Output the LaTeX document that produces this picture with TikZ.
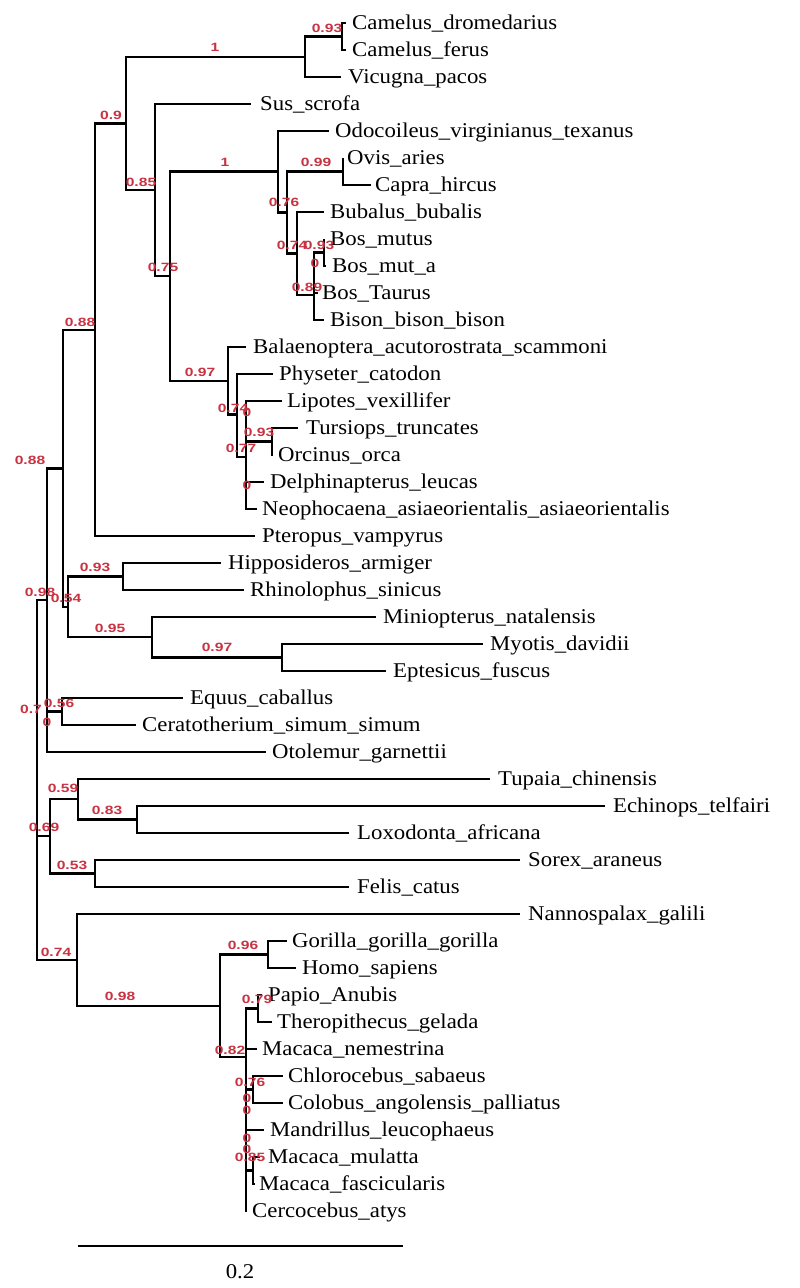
\documentclass[tikz,border=0pt]{standalone}
\usepackage{fontspec}
\setmainfont{Liberation Serif}
\setsansfont{Liberation Sans}
\usepackage{graphicx}
\definecolor{lab}{RGB}{200,50,65}
\tikzset{
  br/.style={line width=2.5pt},
  leaflab/.style={anchor=base west, inner sep=0pt, font=\fontsize{21}{21}\selectfont},
  sup/.style={text=lab, inner sep=0pt, font=\fontsize{12}{12}\selectfont\sffamily\bfseries},
}
\newcommand\leaf[5]{%
  \coordinate (#1) at (#2,#3);
  \node[leaflab] (#1t) at (#4,#3+6.5) {\scalebox{1.085}[1]{#5}};}
\newcommand\rl[1]{\scalebox{1.3}[1]{#1}}
\begin{document}
\begin{tikzpicture}[x=1pt,y=-1pt]
\useasboundingbox (0,0) rectangle (800,1288);
\leaf{l1}{346}{23}{352}{Camelus\_dromedarius}
\leaf{l2}{346}{50}{352}{Camelus\_ferus}
\leaf{l3}{341}{77}{348}{Vicugna\_pacos}
\leaf{l4}{251}{104}{260}{Sus\_scrofa}
\leaf{l5}{329}{131}{335}{Odocoileus\_virginianus\_texanus}
\leaf{l6}{343}{158}{347}{Ovis\_aries}
\leaf{l7}{371}{185}{375}{Capra\_hircus}
\leaf{l8}{324}{212}{330}{Bubalus\_bubalis}
\leaf{l9}{324}{239}{330}{Bos\_mutus}
\leaf{l10}{326}{266}{332}{Bos\_mut\_a}
\leaf{l11}{318}{293}{322}{Bos\_Taurus}
\leaf{l12}{324}{320}{330}{Bison\_bison\_bison}
\leaf{l13}{246}{347}{253}{Balaenoptera\_acutorostrata\_scammoni}
\leaf{l14}{273}{374}{279}{Physeter\_catodon}
\leaf{l15}{282}{401}{287}{Lipotes\_vexillifer}
\leaf{l16}{298}{428}{306}{Tursiops\_truncates}
\leaf{l17}{273}{455}{278}{Orcinus\_orca}
\leaf{l18}{264}{482}{270}{Delphinapterus\_leucas}
\leaf{l19}{257}{509}{262}{Neophocaena\_asiaeorientalis\_asiaeorientalis}
\leaf{l20}{255}{536}{262}{Pteropus\_vampyrus}
\leaf{l21}{221}{563}{228}{Hipposideros\_armiger}
\leaf{l22}{244}{590}{250}{Rhinolophus\_sinicus}
\leaf{l23}{376}{617}{383}{Miniopterus\_natalensis}
\leaf{l24}{483}{644}{490}{Myotis\_davidii}
\leaf{l25}{386}{671}{393}{Eptesicus\_fuscus}
\leaf{l26}{183}{698}{190}{Equus\_caballus}
\leaf{l27}{136}{725}{142}{Ceratotherium\_simum\_simum}
\leaf{l28}{266}{752}{272}{Otolemur\_garnettii}
\leaf{l29}{490}{779}{498}{Tupaia\_chinensis}
\leaf{l30}{605}{806}{613}{Echinops\_telfairi}
\leaf{l31}{349}{833}{357}{Loxodonta\_africana}
\leaf{l32}{520}{860}{528}{Sorex\_araneus}
\leaf{l33}{349}{887}{357}{Felis\_catus}
\leaf{l34}{520}{914}{528}{Nannospalax\_galili}
\leaf{l35}{287}{941}{292}{Gorilla\_gorilla\_gorilla}
\leaf{l36}{296}{968}{302}{Homo\_sapiens}
\leaf{l37}{262}{995}{268}{Papio\_Anubis}
\leaf{l38}{272}{1022}{277}{Theropithecus\_gelada}
\leaf{l39}{257}{1049}{262}{Macaca\_nemestrina}
\leaf{l40}{283}{1076}{288}{Chlorocebus\_sabaeus}
\leaf{l41}{283}{1103}{288}{Colobus\_angolensis\_palliatus}
\leaf{l42}{264}{1130}{270}{Mandrillus\_leucophaeus}
\leaf{l43}{260}{1157}{268}{Macaca\_mulatta}
\leaf{l44}{255}{1184}{259}{Macaca\_fascicularis}
\leaf{l45}{247}{1211}{252}{Cercocebus\_atys}
% internal nodes
\coordinate (nCp) at (342,36.5);
\coordinate (nCam) at (305,57);
\coordinate (nA) at (126,123.5);
\coordinate (n85) at (155,190);
\coordinate (n75) at (170,276);
\coordinate (nR) at (278,171.5);
\coordinate (nR2) at (287,212.5);
\coordinate (nOC) at (343,171.5);
\coordinate (nB) at (297,253.5);
\coordinate (nB2) at (314,295);
\coordinate (nBm) at (324,252.5);
\coordinate (nW) at (228,381);
\coordinate (nW2) at (237,414.5);
\coordinate (nW3) at (246,457);
\coordinate (nTO) at (272,441.5);
\coordinate (n95) at (95,330);
\coordinate (nHR) at (123,576.5);
\coordinate (nME) at (282,657.5);
\coordinate (nMi) at (152,637);
\coordinate (nBat) at (68,607);
\coordinate (n63) at (63,468.5);
\coordinate (nEC) at (62,711.5);
\coordinate (n47) at (47,600);
\coordinate (nLE) at (137,819.5);
\coordinate (n59) at (78,799);
\coordinate (n53) at (95,873.5);
\coordinate (n50) at (50,836);
\coordinate (nGH) at (268,954.5);
\coordinate (nPT) at (258,1008.5);
\coordinate (nCC) at (253,1089.5);
\coordinate (nMM) at (253,1170.5);
\coordinate (nPb) at (246,1057);
\coordinate (nP) at (220,1006);
\coordinate (n77) at (77,960);
\coordinate (root) at (37,780);
\draw[br]
 (root) |- (n47) (root) |- (n50) (root) |- (n77)
 (n47) |- (n63) (n47) |- (nEC) (n47) |- (l28)
 (n63) |- (n95) (n63) |- (nBat)
 (n95) |- (nA) (n95) |- (l20)
 (nA) |- (nCam) (nA) |- (n85)
 (nCam) |- (nCp) (nCam) |- (l3)
 (nCp) |- (l1) (nCp) |- (l2)
 (n85) |- (l4) (n85) |- (n75)
 (n75) |- (nR) (n75) |- (nW)
 (nR) |- (l5) (nR) |- (nR2)
 (nR2) |- (nOC) (nR2) |- (nB)
 (nOC) |- (l6) (nOC) |- (l7)
 (nB) |- (l8) (nB) |- (nB2)
 (nB2) |- (nBm) (nB2) |- (l11) (nB2) |- (l12)
 (nBm) |- (l9) (nBm) |- (l10)
 (nW) |- (l13) (nW) |- (nW2)
 (nW2) |- (l14) (nW2) |- (nW3)
 (nW3) |- (l15) (nW3) |- (nTO) (nW3) |- (l18) (nW3) |- (l19)
 (nTO) |- (l16) (nTO) |- (l17)
 (nBat) |- (nHR) (nBat) |- (nMi)
 (nHR) |- (l21) (nHR) |- (l22)
 (nMi) |- (l23) (nMi) |- (nME)
 (nME) |- (l24) (nME) |- (l25)
 (nEC) |- (l26) (nEC) |- (l27)
 (n50) |- (n59) (n50) |- (n53)
 (n59) |- (l29) (n59) |- (nLE)
 (nLE) |- (l30) (nLE) |- (l31)
 (n53) |- (l32) (n53) |- (l33)
 (n77) |- (l34) (n77) |- (nP)
 (nP) |- (nGH) (nP) |- (nPb)
 (nGH) |- (l35) (nGH) |- (l36)
 (nPb) |- (nPT) (nPb) |- (l39) (nPb) |- (nCC) (nPb) |- (l42) (nPb) |- (nMM) (nPb) |- (l45)
 (nPT) |- (l37) (nPT) |- (l38)
 (nCC) |- (l40) (nCC) |- (l41)
 (nMM) |- (l43) (nMM) |- (l44);
% support values
\node[sup] (s1) at (327,28) {\rl{0.93}};
\node[sup] (s2) at (215,47) {\rl{1}};
\node[sup] (s3) at (111,115) {\rl{0.9}};
\node[sup] (s4) at (141,182) {\rl{0.85}};
\node[sup] (s5) at (225,162) {\rl{1}};
\node[sup] (s6) at (316,162) {\rl{0.99}};
\node[sup] (s7) at (284,202) {\rl{0.76}};
\node[sup] (s8) at (163,267) {\rl{0.75}};
\node[sup] (s9) at (292,245) {\rl{0.74}};
\node[sup] (s10) at (319,245) {\rl{0.93}};
\node[sup] (s11) at (315,263) {\rl{0}};
\node[sup] (s12) at (307,287) {\rl{0.89}};
\node[sup] (s13) at (80,322) {\rl{0.88}};
\node[sup] (s14) at (200,372) {\rl{0.97}};
\node[sup] (s15) at (233,408) {\rl{0.74}};
\node[sup] (s16) at (247,412) {\rl{0}};
\node[sup] (s17) at (259,432) {\rl{0.93}};
\node[sup] (s18) at (241,448) {\rl{0.77}};
\node[sup] (s19) at (247,485) {\rl{0}};
\node[sup] (s20) at (30,460) {\rl{0.88}};
\node[sup] (s21) at (40,592) {\rl{0.98}};
\node[sup] (s22) at (66,598) {\rl{0.54}};
\node[sup] (s23) at (95,567) {\rl{0.93}};
\node[sup] (s24) at (110,628) {\rl{0.95}};
\node[sup] (s25) at (217,647) {\rl{0.97}};
\node[sup] (s26) at (31,709) {\rl{0.7}};
\node[sup] (s27) at (59,703) {\rl{0.56}};
\node[sup] (s28) at (47,722) {\rl{0}};
\node[sup] (s29) at (63,788) {\rl{0.59}};
\node[sup] (s30) at (107,810) {\rl{0.83}};
\node[sup] (s31) at (44,827) {\rl{0.69}};
\node[sup] (s32) at (72,865) {\rl{0.53}};
\node[sup] (s33) at (56,952) {\rl{0.74}};
\node[sup] (s34) at (120,996) {\rl{0.98}};
\node[sup] (s35) at (243,945) {\rl{0.96}};
\node[sup] (s36) at (257,999) {\rl{0.79}};
\node[sup] (s37) at (230,1050) {\rl{0.82}};
\node[sup] (s38) at (250,1082) {\rl{0.76}};
\node[sup] (s39) at (247,1098) {\rl{0}};
\node[sup] (s40) at (247,1110) {\rl{0}};
\node[sup] (s41) at (247,1138) {\rl{0}};
\node[sup] (s42) at (247,1149) {\rl{0}};
\node[sup] (s43) at (250,1157) {\rl{0.85}};
% scale bar
\coordinate (sb1) at (78,1246);
\coordinate (sb2) at (403,1246);
\draw[br] (sb1) -- (sb2);
\node[font=\fontsize{21}{21}\selectfont, inner sep=0pt] (sbl) at (240,1272) {\scalebox{1.085}[1]{0.2}};
\end{tikzpicture}
\end{document}
